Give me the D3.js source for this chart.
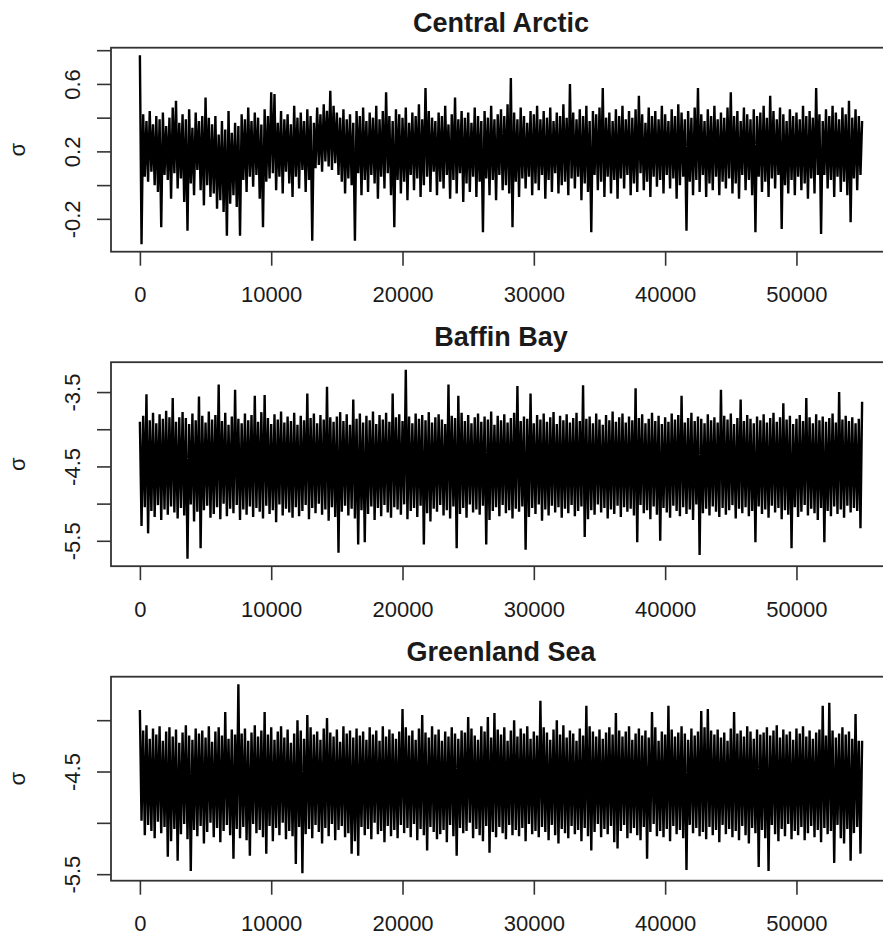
<!DOCTYPE html>
<html>
<head>
<meta charset="utf-8">
<script src="https://cdn.jsdelivr.net/npm/d3@7"></script>
<style>
  html, body { margin: 0; padding: 0; background: #ffffff; }
  svg { display: block; }
</style>
</head>
<body>
<div id="chart"></div>
<script>
// ---------------- DATA ----------------
const titles = ["Central Arctic", "Baffin Bay", "Greenland Sea"];
const yLabel = "σ";
const thin = 125;          // iterations between stored draws
const xTicks = [0, 10000, 20000, 30000, 40000, 50000];

const centralArctic = [
 0.77,-0.35,0.42,0.05,0.38,0.02,0.44,0.08,0.36,0.00,0.41,-0.04,0.39,-0.25,0.43,0.06,0.35,0.03,0.40,-0.08,
 0.46,0.07,0.50,-0.02,0.37,0.04,0.42,-0.10,0.39,-0.27,0.45,0.01,0.34,-0.06,0.43,0.09,0.38,-0.03,0.41,-0.12,
 0.52,0.00,0.40,-0.07,0.36,-0.05,0.41,-0.14,0.30,-0.09,0.38,-0.16,0.33,-0.30,0.44,-0.11,0.31,-0.06,0.37,-0.13,
 0.35,-0.30,0.42,0.03,0.39,-0.04,0.46,0.05,0.38,-0.01,0.43,0.06,0.40,-0.08,0.36,-0.25,0.45,0.02,0.41,0.04,
 0.55,0.07,0.54,-0.03,0.37,0.05,0.44,-0.05,0.39,0.08,0.42,0.01,0.36,-0.07,0.47,0.05,0.40,-0.02,0.43,0.09,
 0.38,-0.04,0.45,0.03,0.41,-0.33,0.37,0.10,0.46,0.12,0.42,0.08,0.48,0.14,0.44,0.11,0.56,0.09,0.47,0.13,
 0.43,0.06,0.40,0.02,0.45,-0.05,0.39,0.04,0.42,0.00,0.37,-0.33,0.44,0.07,0.41,-0.06,0.46,0.03,0.38,-0.04,
 0.43,0.06,0.40,0.01,0.47,-0.08,0.39,0.05,0.44,-0.02,0.55,0.07,0.41,-0.06,0.38,-0.25,0.45,0.03,0.42,-0.05,
 0.40,0.02,0.46,-0.09,0.37,0.06,0.43,-0.03,0.41,0.04,0.48,-0.07,0.39,0.00,0.575,0.05,0.44,-0.04,0.40,0.08,
 0.38,-0.06,0.43,0.02,0.41,-0.02,0.47,0.06,0.36,-0.08,0.42,0.03,0.52,-0.05,0.39,0.07,0.44,-0.10,0.40,0.01,
 0.43,-0.04,0.37,0.05,0.46,-0.07,0.41,0.02,0.38,-0.28,0.44,0.04,0.40,-0.06,0.47,0.03,0.39,-0.09,0.42,0.06,
 0.45,-0.03,0.41,0.00,0.48,-0.05,0.635,-0.25,0.43,0.02,0.39,-0.07,0.46,0.04,0.41,-0.02,0.37,0.05,0.44,-0.06,
 0.42,0.01,0.47,-0.03,0.39,0.06,0.44,-0.08,0.40,0.03,0.46,-0.04,0.38,0.07,0.43,-0.05,0.41,0.00,0.48,0.02,
 0.40,-0.06,0.60,0.04,0.43,-0.02,0.39,0.05,0.45,-0.09,0.41,0.01,0.47,-0.04,0.38,-0.28,0.44,0.06,0.42,-0.03,
 0.46,0.02,0.575,-0.07,0.40,0.05,0.43,-0.05,0.38,0.03,0.45,-0.08,0.41,0.04,0.47,-0.02,0.39,0.06,0.44,-0.06,
 0.40,0.01,0.45,-0.04,0.53,0.07,0.42,-0.03,0.37,0.02,0.46,-0.07,0.41,0.05,0.44,-0.01,0.39,0.03,0.47,-0.05,
 0.42,0.06,0.38,-0.02,0.45,0.04,0.41,-0.08,0.48,0.00,0.43,0.05,0.39,-0.27,0.44,0.02,0.40,-0.06,0.46,0.03,
 0.575,-0.04,0.42,0.06,0.38,-0.07,0.45,0.01,0.41,-0.03,0.47,0.05,0.39,-0.06,0.43,0.02,0.40,-0.02,0.46,0.04,
 0.55,-0.05,0.41,0.01,0.44,-0.08,0.38,0.06,0.46,-0.03,0.42,0.03,0.39,-0.06,0.45,-0.28,0.41,0.05,0.43,-0.04,
 0.47,0.02,0.40,-0.07,0.53,0.04,0.44,-0.02,0.39,0.06,0.46,-0.26,0.42,0.00,0.38,-0.05,0.45,0.03,0.41,-0.06,
 0.43,0.05,0.39,-0.03,0.47,0.01,0.41,-0.08,0.44,0.04,0.40,-0.05,0.575,0.06,0.42,-0.29,0.38,0.06,0.45,-0.02,
 0.41,0.03,0.47,-0.07,0.43,0.05,0.39,-0.04,0.46,0.02,0.42,-0.06,0.50,-0.22,0.40,0.04,0.45,-0.03,0.41,0.06,
 0.38
];

const baffinBay = [
 -3.90,-5.30,-3.82,-5.05,-3.53,-5.40,-3.88,-5.10,-3.78,-5.18,-3.92,-5.02,-3.80,-5.22,-3.86,-5.08,-3.75,-5.15,-3.84,-5.04,
 -3.58,-5.12,-3.90,-5.20,-3.84,-5.06,-3.77,-5.16,-3.85,-5.74,-3.93,-5.01,-3.79,-5.24,-3.88,-5.11,-3.56,-5.60,-3.82,-5.09,
 -3.91,-5.03,-3.76,-5.19,-3.87,-5.14,-3.81,-5.05,-3.40,-5.21,-3.89,-5.00,-3.78,-5.17,-3.94,-5.07,-3.83,-5.13,-3.47,-5.02,
 -3.86,-5.22,-3.92,-5.08,-3.79,-5.15,-3.88,-5.04,-3.81,-5.18,-3.55,-5.06,-3.90,-5.11,-3.77,-5.20,-3.54,-5.03,-3.85,-5.14,
 -3.93,-5.09,-3.80,-5.25,-3.87,-5.01,-3.76,-5.16,-3.91,-5.07,-3.83,-5.12,-3.89,-5.19,-3.78,-5.05,-3.94,-5.17,-3.82,-5.10,
 -3.88,-5.02,-3.52,-5.21,-3.85,-5.06,-3.79,-5.13,-3.92,-5.00,-3.81,-5.15,-3.87,-5.08,-3.43,-5.23,-3.84,-5.05,-3.90,-5.18,
 -3.83,-5.66,-3.77,-5.11,-3.89,-5.03,-3.80,-5.16,-3.94,-5.07,-3.60,-5.20,-3.86,-5.55,-3.79,-5.09,-3.91,-5.52,-3.82,-5.14,
 -3.88,-5.04,-3.76,-5.22,-3.93,-5.06,-3.81,-5.17,-3.87,-5.02,-3.78,-5.12,-3.90,-5.19,-3.52,-5.05,-3.84,-5.08,-3.80,-5.15,
 -3.89,-5.01,-3.20,-5.21,-3.83,-5.10,-3.92,-5.06,-3.79,-5.18,-3.86,-5.03,-3.81,-5.55,-3.88,-5.13,-3.77,-5.24,-3.91,-5.07,
 -3.84,-5.11,-3.80,-5.02,-3.87,-5.16,-3.93,-5.09,-3.40,-5.20,-3.82,-5.04,-3.85,-5.60,-3.55,-5.14,-3.78,-5.06,-3.89,-5.19,
 -3.81,-5.01,-3.92,-5.12,-3.84,-5.08,-3.79,-5.15,-3.90,-5.03,-3.83,-5.55,-3.87,-5.22,-3.76,-5.10,-3.94,-5.05,-3.82,-5.17,
 -3.88,-5.02,-3.80,-5.13,-3.91,-5.09,-3.85,-5.20,-3.78,-5.07,-3.42,-5.11,-3.89,-5.04,-3.83,-5.62,-3.86,-5.18,-3.52,-5.06,
 -3.92,-5.14,-3.81,-5.01,-3.87,-5.23,-3.79,-5.08,-3.90,-5.16,-3.84,-5.03,-3.77,-5.12,-3.93,-5.05,-3.82,-5.19,-3.88,-5.07,
 -3.80,-5.13,-3.91,-5.02,-3.85,-5.17,-3.78,-5.10,-3.89,-5.04,-3.41,-5.45,-3.86,-5.21,-3.83,-5.09,-3.92,-5.15,-3.79,-5.01,
 -3.87,-5.12,-3.94,-5.06,-3.81,-5.20,-3.88,-5.08,-3.76,-5.14,-3.90,-5.03,-3.84,-5.18,-3.79,-5.05,-3.91,-5.11,-3.83,-5.07,
 -3.88,-5.16,-3.45,-5.52,-3.85,-5.02,-3.80,-5.13,-3.92,-5.09,-3.86,-5.21,-3.78,-5.04,-3.89,-5.15,-3.82,-5.50,-3.93,-5.06,
 -3.84,-5.12,-3.90,-5.19,-3.79,-5.03,-3.87,-5.10,-3.81,-5.17,-3.55,-5.05,-3.91,-5.14,-3.85,-5.08,-3.78,-5.22,-3.89,-5.01,
 -3.83,-5.69,-3.86,-5.13,-3.92,-5.07,-3.80,-5.16,-3.88,-5.04,-3.84,-5.11,-3.91,-5.18,-3.47,-5.06,-3.82,-5.15,-3.87,-5.09,
 -3.79,-5.02,-3.93,-5.20,-3.85,-5.07,-3.60,-5.13,-3.89,-5.05,-3.81,-5.17,-3.86,-5.10,-3.92,-5.52,-3.83,-5.04,-3.88,-5.14,
 -3.80,-5.08,-3.91,-5.19,-3.85,-5.03,-3.78,-5.12,-3.90,-5.06,-3.84,-5.21,-3.65,-5.09,-3.87,-5.15,-3.82,-5.60,-3.93,-5.05,
 -3.86,-5.18,-3.81,-5.11,-3.89,-5.02,-3.58,-5.16,-3.84,-5.07,-3.92,-5.13,-3.80,-5.22,-3.88,-5.06,-3.83,-5.52,-3.90,-5.10,
 -3.85,-5.17,-3.79,-5.04,-3.91,-5.14,-3.50,-5.08,-3.87,-5.19,-3.82,-5.03,-3.89,-5.12,-3.84,-5.06,-3.92,-5.10,-3.86,-5.33,
 -3.63
];

const greenlandSea = [
 -3.90,-4.98,-4.10,-5.12,-4.05,-5.02,-4.18,-5.08,-4.08,-5.15,-4.14,-4.99,-4.06,-5.10,-4.20,-5.04,-4.11,-5.33,-4.07,-5.18,
 -4.16,-5.06,-4.09,-5.37,-4.22,-5.11,-4.12,-5.01,-4.05,-5.16,-4.15,-5.47,-4.19,-5.07,-4.08,-5.13,-4.13,-5.03,-4.10,-5.20,
 -4.17,-5.09,-4.06,-5.00,-4.21,-5.14,-4.11,-5.05,-4.07,-5.19,-4.15,-5.08,-3.92,-5.02,-4.18,-5.12,-4.09,-5.35,-4.14,-5.06,
 -3.65,-5.15,-4.13,-5.04,-4.08,-5.17,-4.20,-5.32,-4.12,-5.01,-4.05,-5.10,-4.16,-5.07,-4.10,-5.14,-3.92,-5.30,-4.14,-5.03,
 -4.07,-5.18,-4.19,-5.05,-4.11,-5.12,-4.06,-5.00,-4.17,-5.16,-4.09,-5.08,-4.22,-5.13,-4.13,-5.40,-4.00,-5.04,-4.10,-5.49,
 -4.18,-5.11,-3.95,-5.06,-4.07,-5.15,-4.14,-5.02,-4.11,-5.09,-4.19,-5.20,-4.08,-5.05,-3.98,-5.13,-4.12,-5.01,-4.16,-5.17,
 -4.09,-5.07,-4.21,-5.03,-4.06,-5.14,-4.13,-5.10,-4.10,-5.30,-4.17,-5.18,-4.08,-5.32,-4.15,-5.04,-4.11,-5.12,-4.19,-5.06,
 -4.07,-5.16,-4.14,-5.00,-4.10,-5.11,-4.20,-5.08,-4.06,-5.19,-4.16,-5.03,-4.09,-5.13,-4.13,-5.07,-4.18,-5.15,-4.11,-5.02,
 -3.89,-5.10,-4.07,-5.05,-4.15,-5.14,-4.10,-5.01,-4.19,-5.17,-4.08,-5.06,-3.95,-5.12,-4.12,-5.27,-4.17,-5.04,-4.06,-5.09,
 -4.14,-5.16,-4.09,-5.11,-4.20,-5.07,-4.11,-5.19,-4.16,-5.02,-4.07,-5.13,-4.13,-5.32,-4.18,-5.05,-4.10,-5.10,-4.12,-5.08,
 -3.97,-5.00,-4.08,-5.15,-4.15,-5.06,-4.19,-5.12,-4.06,-5.18,-4.11,-5.03,-3.97,-5.29,-4.17,-5.09,-3.93,-5.14,-4.09,-5.04,
 -4.14,-5.10,-4.07,-5.16,-4.20,-5.02,-4.10,-5.12,-4.00,-5.07,-4.16,-5.13,-4.08,-5.05,-4.13,-5.18,-4.06,-5.01,-4.18,-5.11,
 -4.11,-5.08,-4.15,-5.14,-3.81,-5.04,-4.07,-5.09,-4.12,-5.17,-4.19,-5.02,-4.09,-5.12,-4.00,-5.20,-4.14,-5.06,-4.05,-5.10,
 -4.17,-5.15,-4.10,-5.03,-4.13,-5.11,-4.20,-5.07,-4.08,-5.18,-4.15,-5.05,-3.86,-5.13,-4.06,-5.27,-4.11,-5.09,-4.16,-5.01,
 -4.09,-5.14,-4.18,-5.06,-4.12,-5.11,-4.07,-5.03,-4.14,-5.19,-3.93,-5.25,-4.10,-5.08,-4.16,-5.02,-4.11,-5.15,-4.06,-5.10,
 -4.19,-5.05,-4.13,-5.12,-4.08,-5.17,-4.15,-5.04,-4.10,-5.35,-4.17,-5.09,-3.92,-5.01,-4.07,-5.13,-4.20,-5.08,-4.11,-5.14,
 -4.14,-5.06,-3.86,-5.18,-4.09,-5.03,-4.16,-5.11,-4.12,-5.07,-4.06,-5.15,-4.13,-5.46,-4.19,-5.02,-4.08,-5.10,-4.15,-5.05,
 -4.11,-5.13,-3.91,-5.09,-4.07,-5.16,-3.89,-5.04,-4.10,-5.12,-4.14,-5.07,-4.09,-5.19,-4.17,-5.02,-4.12,-5.11,-4.20,-5.06,
 -4.08,-5.14,-3.92,-5.08,-4.13,-5.17,-4.10,-5.03,-4.16,-5.12,-4.06,-5.20,-4.11,-5.05,-4.18,-5.10,-4.09,-5.43,-4.14,-5.07,
 -4.12,-5.15,-4.07,-5.47,-4.15,-5.02,-4.10,-5.11,-4.05,-5.18,-4.17,-5.06,-4.09,-5.13,-4.14,-5.01,-4.11,-5.16,-4.19,-5.08,
 -4.08,-5.12,-4.13,-5.04,-4.06,-5.17,-4.16,-5.10,-4.10,-5.03,-4.18,-5.14,-4.12,-5.07,-4.09,-5.19,-3.86,-5.05,-4.15,-5.11,
 -3.83,-5.08,-4.10,-5.39,-4.17,-5.02,-4.13,-5.15,-4.07,-5.20,-4.14,-5.06,-4.11,-5.37,-4.18,-5.10,-3.94,-5.04,-4.20,-5.30,
 -4.20
];

const yTicksCentral = [-0.2, 0, 0.2, 0.4, 0.6, 0.8];
const yLabelsCentral = [-0.2, 0.2, 0.6];
const yTicksBaffin = [-5.5, -5, -4.5, -4, -3.5];
const yLabelsBaffin = [-5.5, -4.5, -3.5];
const yTicksGreenland = [-5.5, -5, -4.5, -4];
const yLabelsGreenland = [-5.5, -4.5];

// ---------------- LAYOUT ----------------
const W = 883, H = 941;
const panels = [
  { title: titles[0], values: centralArctic, ticks: yTicksCentral, labels: yLabelsCentral },
  { title: titles[1], values: baffinBay, ticks: yTicksBaffin, labels: yLabelsBaffin },
  { title: titles[2], values: greenlandSea, ticks: yTicksGreenland, labels: yLabelsGreenland }
];
const boxLeft = 111, boxRight = 891;
const firstTop = 47.7, boxH = 204, panelStep = 314.5;
const font = "'Liberation Sans', Arial, Helvetica, sans-serif";
const inkText = "#1a1a1a";
const inkAxis = "#333333";

const svg = d3.select("#chart").append("svg")
  .attr("width", W).attr("height", H)
  .attr("viewBox", `0 0 ${W} ${H}`);

// R-style 4% padded domain
function padded(ext) {
  const r = ext[1] - ext[0];
  return [ext[0] - 0.04 * r, ext[1] + 0.04 * r];
}

panels.forEach((p, k) => {
  const top = firstTop + k * panelStep;
  const bottom = top + boxH;
  const iters = p.values.map((v, i) => i * thin);

  const x = d3.scaleLinear().domain(padded(d3.extent(iters))).range([boxLeft, boxRight]);
  const y = d3.scaleLinear().domain(padded(d3.extent(p.values))).range([bottom, top]);

  const g = svg.append("g");

  // trace
  const line = d3.line()
    .x((d, i) => x(iters[i]))
    .y(d => y(d));
  g.append("path")
    .datum(p.values)
    .attr("d", line)
    .attr("fill", "none")
    .attr("stroke", "#000")
    .attr("stroke-width", 2.4)
    .attr("stroke-linejoin", "bevel");

  // box
  g.append("rect")
    .attr("x", boxLeft).attr("y", top)
    .attr("width", boxRight - boxLeft).attr("height", boxH)
    .attr("fill", "none")
    .attr("stroke", inkAxis)
    .attr("stroke-width", 1.8);

  // x axis
  const xa = g.append("g")
    .attr("transform", `translate(0,${bottom})`)
    .call(d3.axisBottom(x).tickValues(xTicks).tickSize(14).tickSizeOuter(0).tickFormat(d => String(d)));
  xa.select(".domain").remove();
  xa.selectAll(".tick line").attr("stroke", inkAxis).attr("stroke-width", 1.6);
  xa.selectAll(".tick text")
    .attr("y", 50.5).attr("dy", null)
    .attr("fill", inkText)
    .style("font-family", font).style("font-size", "22px");

  // y axis
  const ya = g.append("g")
    .attr("transform", `translate(${boxLeft},0)`)
    .call(d3.axisLeft(y).tickValues(p.ticks).tickSize(14).tickSizeOuter(0)
      .tickFormat(d => p.labels.includes(d) ? String(d) : ""));
  ya.select(".domain").remove();
  ya.selectAll(".tick line").attr("stroke", inkAxis).attr("stroke-width", 1.6);
  ya.selectAll(".tick text")
    .attr("x", null).attr("dy", null)
    .attr("transform", "translate(-31,0) rotate(-90)")
    .attr("text-anchor", "middle")
    .attr("fill", inkText)
    .style("font-family", font).style("font-size", "22px");

  // y label
  g.append("text")
    .attr("transform", `translate(25,${(top + bottom) / 2}) rotate(-90)`)
    .attr("text-anchor", "middle")
    .attr("fill", inkText)
    .style("font-family", font).style("font-size", "22px")
    .text(yLabel);

  // title
  g.append("text")
    .attr("x", (boxLeft + boxRight) / 2)
    .attr("y", top - 16)
    .attr("text-anchor", "middle")
    .attr("fill", inkText)
    .style("font-family", font).style("font-size", "27px").style("font-weight", "bold")
    .text(p.title);
});
</script>
</body>
</html>
